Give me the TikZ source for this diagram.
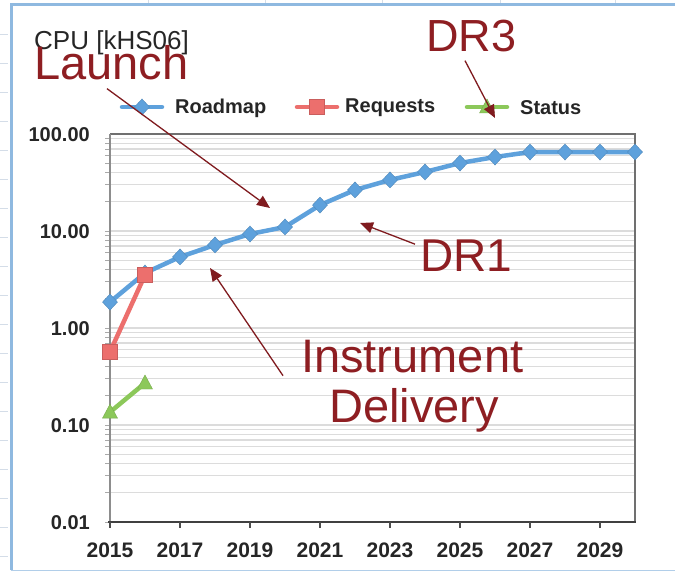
\documentclass[tikz,border=0pt]{standalone}
\usepackage{fontspec}
\setmainfont{Liberation Sans}
\usetikzlibrary{arrows.meta}

\definecolor{roadblue}{HTML}{5EA1DC}
\definecolor{reqred}{HTML}{EC6F6D}
\definecolor{statgreen}{HTML}{8CC85A}
\definecolor{annred}{HTML}{8E1E22}
\definecolor{framebl}{HTML}{8FB9E0}
\definecolor{gridgr}{HTML}{DCDCDC}
\definecolor{axisgr}{HTML}{707070}
\definecolor{cellgr}{HTML}{D4DDE8}

\tikzset{
  series/.style={line width=4.5pt, line cap=round, line join=round},
  diamondmark/.style={fill=roadblue, draw=roadblue!85!black, line width=0.4pt},
  gridline/.style={draw=gridgr, line width=1.3pt},
  axislabel/.style={font=\bfseries\fontsize{20}{20}\selectfont, text=black!85, inner sep=0pt},
  yearlabel/.style={font=\bfseries\fontsize{21}{21}\selectfont, text=black!85, inner sep=0pt},
  legendtext/.style={font=\bfseries\fontsize{20}{20}\selectfont, text=black!85, inner sep=0pt, anchor=west},
  ann/.style={font=\fontsize{47}{47}\selectfont, text=annred, inner sep=0pt, anchor=base west},
  annarrow/.style={draw=annred!90!black, line width=1.3pt, -{Triangle[length=13pt,width=11pt]}}
}

\newcommand{\rdiamond}[1]{\filldraw[diamondmark] (#1) +(0,-8) -- +(7.5,0) -- +(0,8) -- +(-7.5,0) -- cycle;}
\newcommand{\rsquare}[1]{\filldraw[fill=reqred, draw=reqred!85!black, line width=0.4pt] (#1) +(-7.5,-7.5) rectangle +(7.5,7.5);}
\newcommand{\rtriangle}[1]{\filldraw[fill=statgreen, draw=statgreen!85!black, line width=0.4pt] (#1) +(0,-8) -- +(7.5,6) -- +(-7.5,6) -- cycle;}

\begin{document}
\begin{tikzpicture}[x=1pt, y=-1pt,
  declare function={px(\t)=110+35*(\t-2015); py(\v)=522-97*(log10(\v)+2);}]
\useasboundingbox (0,0) rectangle (675,572);
\fill[white] (0,0) rectangle (675,572);

% spreadsheet cell lines around the embedded chart
\foreach \cx in {148,265,382,500,615} {\draw[cellgr, line width=0.8pt] (\cx,0) -- (\cx,4);}
\foreach \cy in {34,63,92,121,150,179,208,237,266,295,324,353,382,411,440,469,498,527,556} {\draw[cellgr, line width=0.8pt] (0,\cy) -- (8,\cy);}

% chart frame
\draw[framebl, line width=3pt] (11,570) -- (11,5) -- (675,5);
\draw[framebl!70, line width=1pt] (11,570) -- (675,570);

% horizontal log grid
\foreach \d in {-2,-1,0,1} {
  \foreach \m in {1,...,9} {
    \pgfmathsetmacro{\gy}{522-97*(\d+2+log10(\m))}
    \draw[gridline] (110,\gy) -- (635,\gy);
    \draw[axisgr!60, line width=0.8pt] (105,\gy) -- (110,\gy);
  }
}

% plot area border and axes
\draw[axisgr, line width=1.5pt] (110,134) -- (635,134) -- (635,522);
\draw[axisgr!80, line width=1.5pt] (110,134) -- (110,522);
\draw[black!75, line width=2.2pt] (108,522) -- (636,522);
\foreach \yr in {2015,2017,...,2029} {\draw[black!70, line width=1.2pt] ({px(\yr)},522) -- ({px(\yr)},528);}

% y labels
\foreach \v/\t in {100/100.00, 10/10.00, 1/1.00, 0.1/0.10, 0.01/0.01}
  {\node[axislabel, anchor=east] (ylab\t) at (90,{py(\v)+1}) {\t};}

% x labels
\foreach \yr in {2015,2017,...,2029}
  {\node[yearlabel] (xlab\yr) at ({px(\yr)},550) {\yr};}

% Roadmap series
\draw[series, roadblue]
  plot coordinates {({px(2015)},{py(1.85)}) ({px(2016)},{py(3.69)}) ({px(2017)},{py(5.40)})
    ({px(2018)},{py(7.18)}) ({px(2019)},{py(9.31)}) ({px(2020)},{py(11.0)})
    ({px(2021)},{py(18.5)}) ({px(2022)},{py(26.5)}) ({px(2023)},{py(33.6)})
    ({px(2024)},{py(40.6)}) ({px(2025)},{py(50.2)}) ({px(2026)},{py(57.9)})
    ({px(2027)},{py(65.2)}) ({px(2028)},{py(65.2)}) ({px(2029)},{py(65.2)}) ({px(2030)},{py(65.2)})};
\foreach \yr/\v in {2015/1.85,2016/3.69,2017/5.40,2018/7.18,2019/9.31,2020/11.0,2021/18.5,2022/26.5,2023/33.6,2024/40.6,2025/50.2,2026/57.9,2027/65.2,2028/65.2,2029/65.2,2030/65.2}
  {\rdiamond{{px(\yr)},{py(\v)}}}

% Requests series
\draw[series, reqred] ({px(2015)},{py(0.567)}) -- ({px(2016)},{py(3.52)});
\rsquare{{px(2015)},{py(0.567)}}
\rsquare{{px(2016)},{py(3.52)}}

% Status series
\draw[series, statgreen] ({px(2015)},{py(0.133)}) -- ({px(2016)},{py(0.271)});
\rtriangle{{px(2015)},{py(0.133)}}
\rtriangle{{px(2016)},{py(0.271)}}

% legend
\draw[series, roadblue] (122,107) -- (162,107);
\rdiamond{142,107}
\node[legendtext] (legroad) at (175,108) {Roadmap};
\draw[series, reqred] (297,107) -- (337,107);
\rsquare{317,107}
\node[legendtext] (legreq) at (345,108) {Requests};
\draw[series, statgreen] (467,107) -- (507,107);
\rtriangle{487,107}
\node[legendtext] (legstat) at (520,108) {Status};

% title
\node[font=\fontsize{26}{26}\selectfont, text=black!85, inner sep=0pt, anchor=base west] (title) at (34,50) {CPU [kHS06]};

% milestone annotations
\node[ann] (launch) at (34,80) {Launch};
\node[ann, font=\fontsize{45}{45}\selectfont] (dr3) at (426,52) {DR3};
\node[ann, font=\fontsize{46}{46}\selectfont] (dr1) at (420,272) {DR1};
\node[ann] (instr) at (301,372) {Instrument};
\node[ann] (deliv) at (329,422) {Delivery};

\coordinate (launchtip) at (270,208);
\coordinate (dr3tip) at (495,118);
\coordinate (dr1tip) at (360,223);
\coordinate (instrtip) at (210,268);

\draw[annarrow] ([xshift=73pt,yshift=-8pt]launch.south west) -- (launchtip);
\draw[annarrow] ([xshift=39pt,yshift=-8pt]dr3.south west) -- (dr3tip);
\draw[annarrow] ([xshift=-5pt,yshift=12pt]dr1.west) -- (dr1tip);
\draw[annarrow] ([xshift=-18pt,yshift=-3pt]instr.south west) -- (instrtip);
\end{tikzpicture}
\end{document}
